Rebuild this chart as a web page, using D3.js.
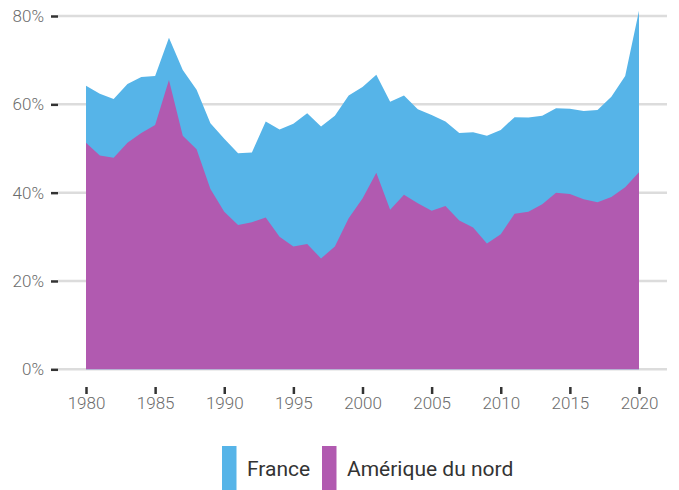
<!DOCTYPE html>
<meta charset="utf-8">
<style>
body { margin: 0; background: #fff; }
text { font-family: Roboto, sans-serif; }
</style>
<body>
<script src="https://d3js.org/d3.v7.min.js"></script>
<script>
var width = 679,
    height = 490;

// années 1980 -> 2020
var years = d3.range(1980, 2021);
var france = [64.2, 62.4, 61.2, 64.6, 66.2, 66.4, 75.1, 67.8, 63.3, 55.7,
              52.2, 48.9, 49.1, 56.1, 54.3, 55.6, 58.0, 55.0, 57.4, 62.0,
              63.9, 66.7, 60.6, 62.0, 58.9, 57.6, 56.1, 53.5, 53.7, 52.9,
              54.2, 57.1, 57.0, 57.4, 59.1, 59.0, 58.5, 58.7, 61.7, 66.4, 81.2];
var amerique = [51.3, 48.4, 47.9, 51.3, 53.5, 55.3, 65.5, 52.9, 49.8, 40.8,
                35.7, 32.7, 33.3, 34.4, 30.0, 27.8, 28.4, 25.1, 27.8, 34.2,
                38.7, 44.5, 36.1, 39.5, 37.6, 35.9, 37.0, 33.7, 32.1, 28.5,
                30.6, 35.2, 35.7, 37.4, 40.0, 39.7, 38.5, 37.8, 39.0, 41.2, 44.6];
var yTicks = [0, 20, 40, 60, 80];
var xTicks = [1980, 1985, 1990, 1995, 2000, 2005, 2010, 2015, 2020];
var seriesNames = ["France", "Amérique du nord"];
var colors = ["#56b4e8", "#b15ab0"];

var x = d3.scaleLinear().domain([1980, 2020]).range([86, 639]);
var y = d3.scaleLinear().domain([0, 80]).range([369.3, 16]);

var svg = d3.select("body").append("svg")
    .attr("width", width)
    .attr("height", height);

// grille
svg.append("g").selectAll("line")
    .data(yTicks)
  .enter().append("line")
    .attr("x1", 58).attr("x2", 667)
    .attr("y1", d => y(d)).attr("y2", d => y(d))
    .attr("stroke", "#dcdcdc")
    .attr("stroke-width", 2.5);

var yAxis = svg.append("g").attr("transform", "translate(58,0)")
    .call(d3.axisLeft(y).tickValues(yTicks).tickSize(7).tickPadding(7).tickFormat(d => d + "%"));
yAxis.select(".domain").remove();
yAxis.selectAll(".tick line").attr("stroke", "#333").attr("stroke-width", 2.5);
yAxis.selectAll("text").attr("fill", "#6b6b6b").style("font-size", "17px").style("font-weight", 300);

var area = function(vals) {
  return d3.area()
    .x((d, i) => x(years[i]))
    .y0(y(0))
    .y1(d => y(d))(vals);
};

svg.append("path").attr("d", area(france)).attr("fill", colors[0]);
svg.append("path").attr("d", area(amerique)).attr("fill", colors[1]);

var xAxis = svg.append("g").attr("transform", "translate(0,387)")
    .call(d3.axisBottom(x).tickValues(xTicks).tickSize(7).tickPadding(3).tickFormat(d3.format("d")));
xAxis.select(".domain").remove();
xAxis.selectAll(".tick line").attr("stroke", "#333").attr("stroke-width", 2.5);
xAxis.selectAll("text").attr("fill", "#6b6b6b").style("font-size", "17px").style("font-weight", 300);

// légende
var legendX = [222, 322];
var lg = svg.append("g").selectAll("g")
    .data(seriesNames)
  .enter().append("g")
    .attr("transform", (d, i) => "translate(" + legendX[i] + ",446)");
lg.append("rect").attr("width", 14.5).attr("height", 44).attr("fill", (d, i) => colors[i]);
lg.append("text").attr("x", 25).attr("y", 30)
    .attr("fill", "#333")
    .style("font-size", "21px")
    .text(d => d);
</script>
</body>
</html>
